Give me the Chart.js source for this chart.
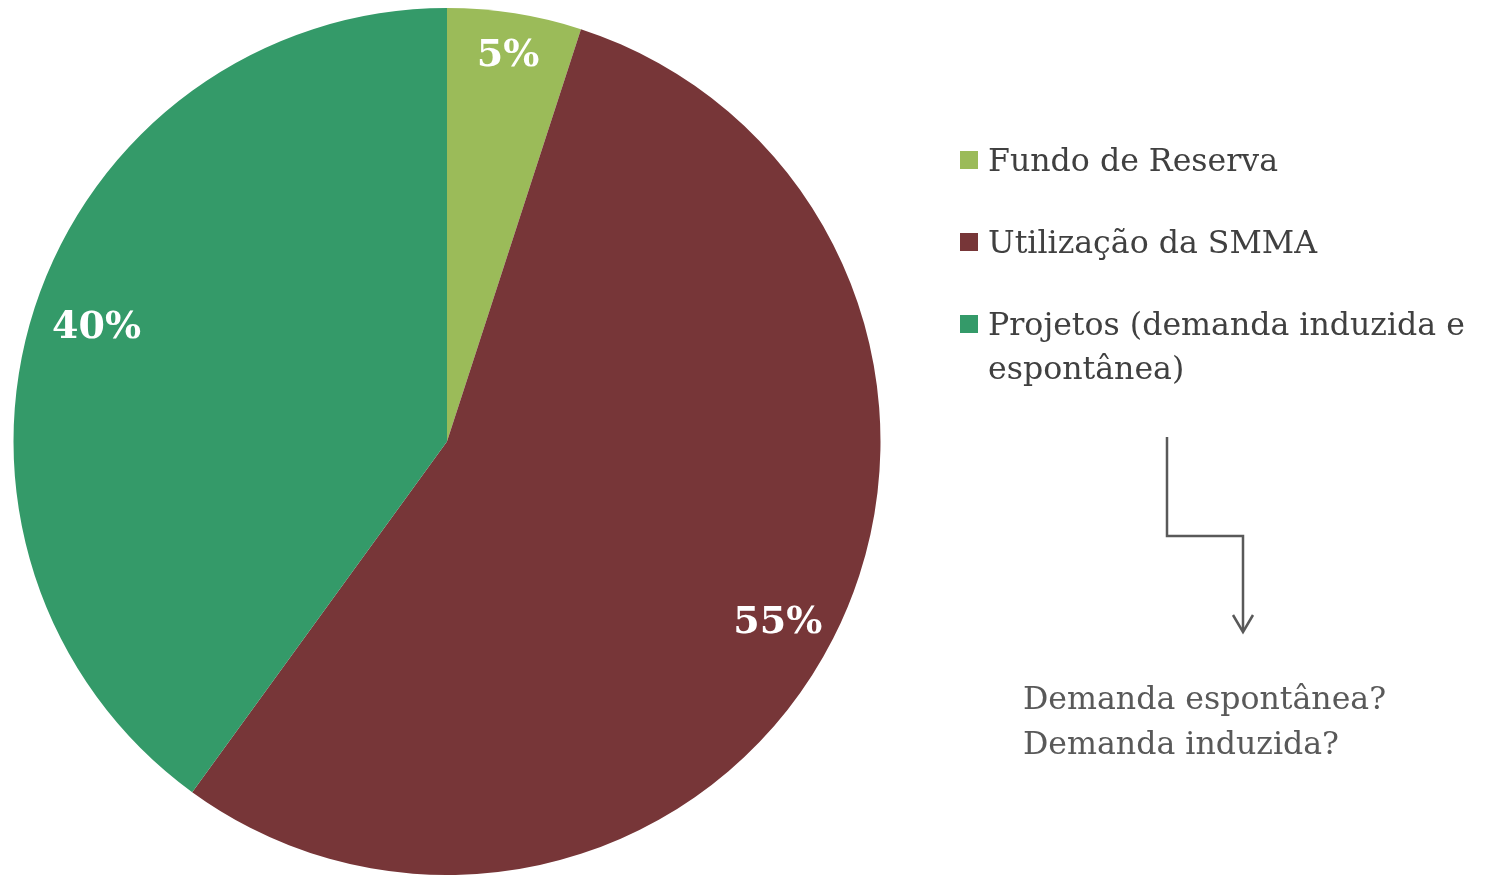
<!DOCTYPE html>
<html lang="pt-BR">
<head>
<meta charset="utf-8">
<script src="https://cdn.jsdelivr.net/npm/chart.js@4/dist/chart.umd.min.js"></script>
<style>
  html, body { margin: 0; padding: 0; background: #fff; overflow: hidden; }
  #wrap { position: relative; width: 1498px; height: 875px; }
  #chart { position: absolute; left: 0; top: 0; }
  .legenda { position: absolute; left: 960px; font-family: "DejaVu Serif", serif; font-size: 31.6px; color: #404040; line-height: 44px; }
  .legenda .item { position: absolute; left: 0; white-space: nowrap; }
  .legenda .cx { position: absolute; left: 0; top: 13px; width: 18px; height: 18px; }
  .legenda .txt { position: absolute; left: 28px; }
  .nota { position: absolute; left: 1023px; top: 676px; font-family: "DejaVu Serif", serif; font-size: 31.6px; color: #595959; line-height: 45px; white-space: nowrap; }
  svg { position: absolute; left: 0; top: 0; }
</style>
</head>
<body>
<div id="wrap">
  <canvas id="chart" width="1498" height="875"></canvas>
  <div class="legenda" id="legenda" style="top:0"></div>
  <svg width="1498" height="875">
    <polyline points="1167,437 1167,536 1243,536 1243,631" fill="none" stroke="#595959" stroke-width="2.5"/>
    <polyline points="1233,615 1243,632 1253,615" fill="none" stroke="#595959" stroke-width="2.5"/>
  </svg>
  <div class="nota">Demanda espontânea?<br>Demanda induzida?</div>
</div>
<script>
// Dados do gráfico
const categorias = ['Fundo de Reserva', 'Utilização da SMMA', 'Projetos (demanda induzida e espontânea)'];
const valores = [5, 55, 40];
const cores = ['#9bbb59', '#773638', '#349a69'];

// Legenda manual (HTML)
const legendaTop = [138, 220, 302];
const legenda = document.getElementById('legenda');
categorias.forEach(function (cat, i) {
  const item = document.createElement('div');
  item.className = 'item';
  item.style.top = legendaTop[i] + 'px';
  let texto = cat;
  if (i === 2) texto = 'Projetos (demanda induzida e<br>espontânea)';
  item.innerHTML = '<span class="cx" style="background:' + cores[i] + '"></span><span class="txt">' + texto + '</span>';
  legenda.appendChild(item);
});

// Rótulos de porcentagem dentro das fatias
const fatorRaio = [0.9, 0.87, 0.85];
const deslocAngulo = [0, 0.03, 0];
const rotulos = {
  id: 'rotulos',
  afterDatasetsDraw(chart) {
    const ctx = chart.ctx;
    const meta = chart.getDatasetMeta(0);
    ctx.save();
    ctx.fillStyle = '#ffffff';
    ctx.font = 'bold 38px "DejaVu Serif", serif';
    ctx.textAlign = 'center';
    ctx.textBaseline = 'middle';
    meta.data.forEach(function (arc, i) {
      const p = arc.getProps(['x', 'y', 'startAngle', 'endAngle', 'outerRadius'], true);
      const meio = (p.startAngle + p.endAngle) / 2 + deslocAngulo[i];
      const r = p.outerRadius * fatorRaio[i];
      ctx.fillText(valores[i] + '%', p.x + Math.cos(meio) * r, p.y + Math.sin(meio) * r);
    });
    ctx.restore();
  }
};

new Chart(document.getElementById('chart').getContext('2d'), {
  type: 'pie',
  data: {
    labels: categorias,
    datasets: [{
      data: valores,
      backgroundColor: cores,
      borderWidth: 0
    }]
  },
  options: {
    responsive: false,
    animation: false,
    layout: { padding: { left: 13, top: 8, right: 617, bottom: 0 } },
    plugins: { legend: { display: false }, tooltip: { enabled: false } }
  },
  plugins: [rotulos]
});
</script>
</body>
</html>
